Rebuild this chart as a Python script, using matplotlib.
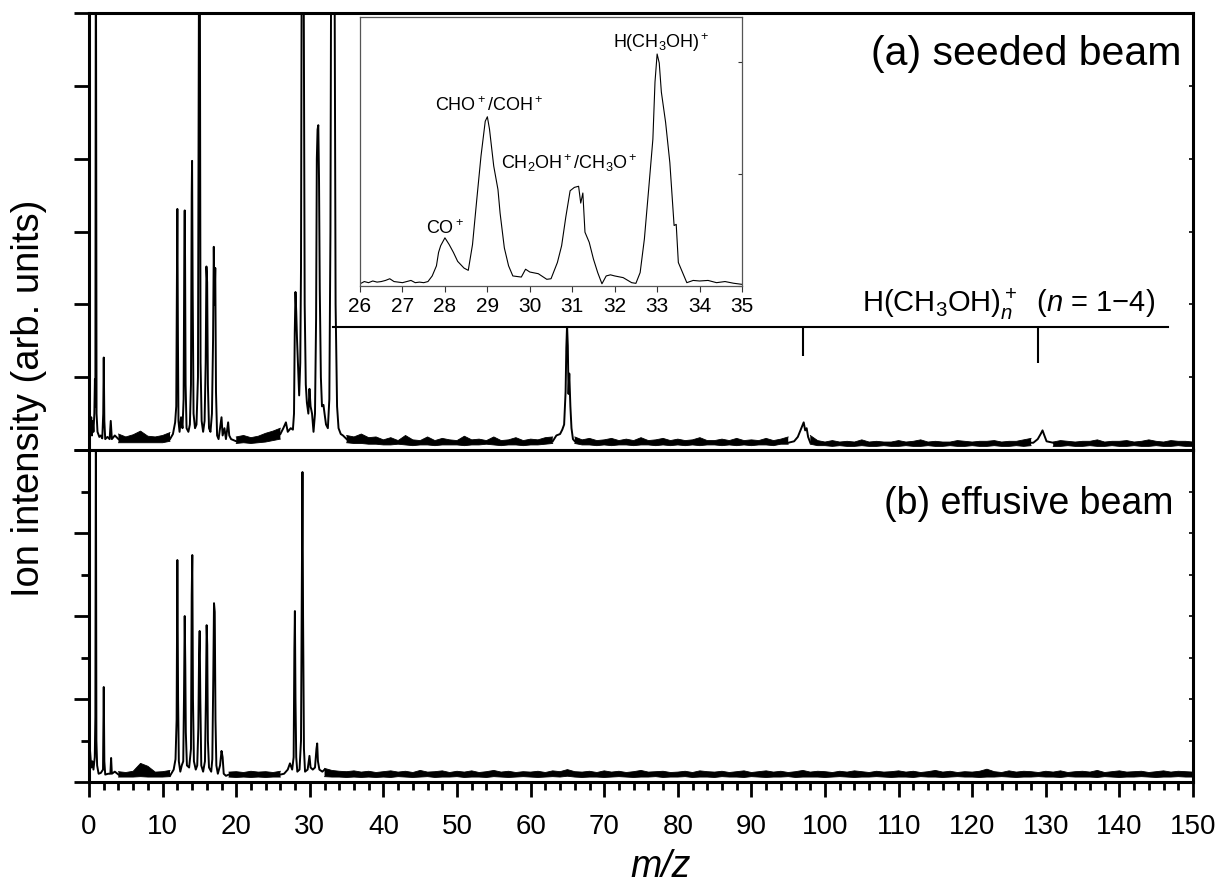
import numpy as np
import matplotlib
matplotlib.use('Agg')
import matplotlib.pyplot as plt
from matplotlib.ticker import MultipleLocator

plt.rcParams['font.family'] = ['Liberation Sans', 'DejaVu Sans']
plt.rcParams['mathtext.fontset'] = 'custom'
plt.rcParams['mathtext.rm'] = 'Liberation Sans'
plt.rcParams['mathtext.it'] = 'Liberation Sans:italic'
plt.rcParams['mathtext.bf'] = 'Liberation Sans:bold'

# ---- noise band of the baseline (lower / upper edge), m/z 0 .. 150 in steps of 1
top_band_lo = [
    0.1, 0.1, 0.1, 0.1, 0.1, 0.1, 0.1, 0.1, 0.1, 0.1,
    0.1, 0.12, 0.12, 0.12, 0.12, 0.12, 0.12, 0.12, 0.12, 0.1,
    0.09, 0.1, 0.09, 0.1, 0.11, 0.13, 0.15, 0.15, 0.15, 0.15,
    0.15, 0.15, 0.15, 0.15, 0.12, 0.1, 0.09, 0.09, 0.08, 0.08,
    0.07, 0.07, 0.08, 0.07, 0.06, 0.07, 0.07, 0.06, 0.07, 0.07,
    0.07, 0.06, 0.07, 0.07, 0.08, 0.07, 0.06, 0.07, 0.07, 0.06,
    0.07, 0.07, 0.08, 0.09, 0.1, 0.1, 0.09, 0.07, 0.07, 0.06,
    0.07, 0.06, 0.07, 0.07, 0.06, 0.07, 0.07, 0.06, 0.07, 0.06,
    0.07, 0.06, 0.07, 0.06, 0.07, 0.07, 0.06, 0.07, 0.06, 0.07,
    0.06, 0.07, 0.07, 0.06, 0.08, 0.08, 0.09, 0.1, 0.08, 0.06,
    0.06, 0.05, 0.06, 0.05, 0.05, 0.06, 0.05, 0.05, 0.06, 0.05,
    0.05, 0.06, 0.05, 0.05, 0.06, 0.05, 0.05, 0.06, 0.05, 0.05,
    0.06, 0.05, 0.05, 0.06, 0.05, 0.05, 0.06, 0.05, 0.06, 0.07,
    0.06, 0.05, 0.05, 0.06, 0.05, 0.05, 0.06, 0.05, 0.05, 0.06,
    0.05, 0.05, 0.06, 0.05, 0.05, 0.06, 0.05, 0.05, 0.06, 0.05, 0.05,
]
top_band_hi = [
    0.3, 0.3, 0.3, 0.3, 0.22, 0.18, 0.21, 0.26, 0.19, 0.18,
    0.2, 0.24, 0.3, 0.3, 0.3, 0.3, 0.3, 0.3, 0.3, 0.2,
    0.18, 0.2, 0.17, 0.19, 0.23, 0.26, 0.3, 0.33, 0.3, 0.3,
    0.3, 0.3, 0.3, 0.3, 0.24, 0.2, 0.18, 0.22, 0.17, 0.18,
    0.14, 0.17, 0.13, 0.2, 0.14, 0.13, 0.18, 0.13, 0.16, 0.14,
    0.13, 0.19, 0.14, 0.15, 0.13, 0.18, 0.13, 0.14, 0.17, 0.13,
    0.15, 0.14, 0.17, 0.18, 0.22, 0.25, 0.18, 0.14, 0.16, 0.13,
    0.14, 0.16, 0.13, 0.15, 0.13, 0.17, 0.13, 0.14, 0.16, 0.13,
    0.15, 0.13, 0.14, 0.17, 0.13, 0.13, 0.15, 0.13, 0.16, 0.13,
    0.14, 0.13, 0.16, 0.13, 0.15, 0.18, 0.22, 0.3, 0.2, 0.13,
    0.11, 0.13, 0.11, 0.12, 0.11, 0.14, 0.11, 0.12, 0.11, 0.11,
    0.13, 0.11, 0.12, 0.14, 0.11, 0.12, 0.11, 0.11, 0.13, 0.12,
    0.11, 0.12, 0.12, 0.13, 0.11, 0.12, 0.12, 0.14, 0.16, 0.2,
    0.13, 0.11, 0.13, 0.12, 0.11, 0.12, 0.12, 0.14, 0.11, 0.12,
    0.12, 0.13, 0.11, 0.12, 0.14, 0.12, 0.11, 0.13, 0.12, 0.12, 0.11,
]
bot_band_lo = [
    0.12, 0.12, 0.12, 0.12, 0.12, 0.12, 0.12, 0.13, 0.12, 0.12,
    0.12, 0.13, 0.15, 0.15, 0.15, 0.15, 0.15, 0.15, 0.13, 0.12,
    0.11, 0.12, 0.11, 0.12, 0.11, 0.12, 0.12, 0.13, 0.15, 0.15,
    0.15, 0.14, 0.13, 0.12, 0.12, 0.11, 0.12, 0.11, 0.12, 0.11,
    0.12, 0.11, 0.13, 0.12, 0.11, 0.12, 0.13, 0.11, 0.12, 0.12,
    0.13, 0.11, 0.12, 0.12, 0.11, 0.13, 0.12, 0.11, 0.12, 0.13,
    0.12, 0.11, 0.12, 0.13, 0.12, 0.14, 0.12, 0.11, 0.12, 0.12,
    0.11, 0.12, 0.13, 0.12, 0.11, 0.12, 0.12, 0.13, 0.11, 0.12,
    0.12, 0.13, 0.11, 0.12, 0.12, 0.11, 0.13, 0.12, 0.12, 0.11,
    0.13, 0.12, 0.11, 0.12, 0.12, 0.13, 0.11, 0.12, 0.12, 0.12,
    0.11, 0.12, 0.13, 0.12, 0.11, 0.12, 0.12, 0.13, 0.12, 0.11,
    0.12, 0.12, 0.11, 0.13, 0.12, 0.12, 0.11, 0.12, 0.13, 0.12,
    0.12, 0.11, 0.12, 0.12, 0.13, 0.12, 0.11, 0.12, 0.12, 0.13,
    0.12, 0.12, 0.11, 0.13, 0.12, 0.12, 0.12, 0.11, 0.13, 0.12,
    0.11, 0.12, 0.12, 0.13, 0.12, 0.11, 0.12, 0.12, 0.13, 0.12, 0.12,
]
bot_band_hi = [
    0.3, 0.3, 0.3, 0.3, 0.25, 0.23, 0.26, 0.45, 0.38, 0.24,
    0.25, 0.28, 0.3, 0.3, 0.3, 0.3, 0.3, 0.3, 0.28, 0.24,
    0.25, 0.23, 0.26, 0.24, 0.25, 0.23, 0.26, 0.28, 0.3, 0.3,
    0.3, 0.3, 0.33, 0.28, 0.26, 0.25, 0.27, 0.24, 0.26, 0.23,
    0.25, 0.27, 0.24, 0.26, 0.23, 0.28, 0.24, 0.25, 0.27, 0.23,
    0.26, 0.24, 0.27, 0.23, 0.25, 0.28, 0.24, 0.26, 0.23, 0.25,
    0.24, 0.26, 0.23, 0.27, 0.25, 0.3, 0.25, 0.24, 0.26, 0.23,
    0.27, 0.24, 0.26, 0.23, 0.25, 0.28, 0.24, 0.25, 0.26, 0.23,
    0.24, 0.26, 0.23, 0.27, 0.25, 0.24, 0.26, 0.23, 0.25, 0.27,
    0.23, 0.25, 0.27, 0.24, 0.26, 0.23, 0.25, 0.28, 0.24, 0.26,
    0.25, 0.23, 0.26, 0.24, 0.27, 0.25, 0.23, 0.26, 0.24, 0.25,
    0.27, 0.24, 0.26, 0.23, 0.25, 0.28, 0.24, 0.26, 0.23, 0.25,
    0.24, 0.26, 0.31, 0.25, 0.23, 0.27, 0.24, 0.26, 0.25, 0.23,
    0.26, 0.24, 0.27, 0.23, 0.25, 0.26, 0.24, 0.28, 0.23, 0.25,
    0.27, 0.24, 0.25, 0.26, 0.23, 0.25, 0.27, 0.24, 0.26, 0.25, 0.24,
]

# ---- peak groups (m/z, intensity), (a) seeded beam
top_light = [(0.0, 0.35), (0.1, 0.5), (0.2, 0.3), (0.3, 0.45), (0.4, 0.2), (0.5, 0.4), (0.6, 0.25),
             (0.72, 0.5), (0.8, 0.97), (0.86, 0.6), (0.93, 8.0), (1.02, 0.5), (1.15, 0.25), (1.4, 0.18),
             (1.6, 0.2), (1.8, 0.16), (1.93, 0.5), (2.0, 1.27), (2.08, 0.4), (2.2, 0.15), (2.5, 0.18),
             (2.8, 0.15), (2.95, 0.4), (3.1, 0.15), (3.5, 0.2), (4.0, 0.15)]
top_ch = [(11.0, 0.15), (11.4, 0.22), (11.7, 0.38), (11.85, 0.6), (11.95, 2.5), (12.0, 3.31), (12.08, 1.5),
          (12.15, 0.4), (12.3, 0.25), (12.5, 0.45), (12.7, 0.3), (12.85, 0.7), (12.95, 2.8), (13.0, 3.29),
          (13.05, 2.6), (13.12, 0.9), (13.25, 0.3), (13.5, 0.25), (13.7, 0.35), (13.85, 0.9), (13.95, 3.5),
          (14.0, 3.97), (14.08, 2.2), (14.2, 0.5), (14.4, 0.3), (14.6, 0.35), (14.8, 1.0), (14.95, 7.0),
          (15.05, 7.0), (15.15, 1.2), (15.3, 0.4), (15.5, 0.25), (15.7, 0.4), (15.85, 1.2), (15.95, 2.52),
          (16.05, 2.3), (16.15, 0.9), (16.3, 0.3), (16.5, 0.25), (16.7, 0.5), (16.85, 1.5), (16.95, 2.79),
          (17.05, 2.0), (17.15, 2.5), (17.25, 0.8), (17.4, 0.2), (17.6, 0.15), (17.8, 0.3), (18.0, 0.45),
          (18.15, 0.2), (18.4, 0.3), (18.6, 0.15), (18.9, 0.38), (19.05, 0.2), (19.3, 0.15), (20.0, 0.12)]
top_co = [(26.0, 0.22), (26.4, 0.3), (26.75, 0.38), (27.0, 0.25), (27.4, 0.3), (27.7, 0.28), (27.85, 0.5),
          (27.95, 1.6), (28.05, 2.17), (28.15, 1.9), (28.25, 1.55), (28.4, 1.15), (28.55, 0.75), (28.7, 1.2),
          (28.8, 2.5), (28.9, 7.0), (29.15, 7.0), (29.3, 2.0), (29.45, 0.9), (29.6, 0.65), (29.8, 0.5),
          (29.95, 0.84), (30.1, 0.6), (30.3, 0.5), (30.5, 0.25), (30.7, 0.5), (30.85, 1.8), (30.95, 4.0),
          (31.05, 4.4), (31.15, 4.46), (31.25, 3.7), (31.35, 2.2), (31.5, 1.0), (31.65, 0.6), (31.85, 0.62),
          (32.0, 0.5), (32.2, 0.35), (32.45, 0.3), (32.65, 0.7), (32.8, 3.0), (32.9, 7.0), (33.35, 7.0),
          (33.5, 2.0), (33.7, 0.6), (33.9, 0.3), (34.2, 0.22), (34.5, 0.2), (35.0, 0.15)]
top_n2 = [(63.0, 0.12), (63.5, 0.2), (64.0, 0.22), (64.3, 0.28), (64.55, 0.35), (64.75, 0.8), (64.85, 1.4),
          (64.95, 1.69), (65.05, 1.43), (65.1, 1.1), (65.15, 0.77), (65.25, 1.05), (65.4, 0.6), (65.55, 0.3),
          (65.75, 0.15), (66.0, 0.12)]
top_n3 = [(95.0, 0.1), (95.8, 0.12), (96.3, 0.18), (96.7, 0.28), (96.9, 0.33), (97.1, 0.38), (97.3, 0.27),
          (97.5, 0.3), (97.7, 0.18), (98.0, 0.1)]
top_n4 = [(128.0, 0.1), (128.3, 0.1), (128.9, 0.15), (129.3, 0.22), (129.55, 0.27), (129.8, 0.2),
          (130.1, 0.12), (131.0, 0.1)]

# ---- (b) effusive beam
bot_light = [(0.0, 0.3), (0.1, 0.84), (0.2, 0.6), (0.3, 0.35), (0.45, 0.5), (0.6, 0.3), (0.78, 0.6),
             (0.86, 1.57), (0.93, 9.0), (1.0, 1.0), (1.1, 0.4), (1.3, 0.2), (1.6, 0.22), (1.9, 0.3),
             (2.0, 2.29), (2.08, 0.5), (2.2, 0.18), (2.6, 0.2), (2.9, 0.2), (3.0, 0.58), (3.1, 0.2),
             (3.5, 0.25), (4.0, 0.18)]
bot_ch = [(11.0, 0.15), (11.5, 0.3), (11.75, 0.55), (11.9, 1.5), (12.0, 5.35), (12.1, 2.0), (12.2, 0.5),
          (12.4, 0.25), (12.6, 0.4), (12.8, 0.5), (12.9, 2.0), (13.0, 4.0), (13.08, 2.8), (13.15, 1.2),
          (13.3, 0.4), (13.6, 0.35), (13.85, 0.8), (13.95, 4.5), (14.03, 5.47), (14.12, 2.0), (14.25, 0.5),
          (14.5, 0.3), (14.7, 0.4), (14.85, 1.3), (14.95, 3.07), (15.03, 3.64), (15.12, 2.0), (15.25, 0.4),
          (15.5, 0.25), (15.75, 0.5), (15.88, 2.0), (15.98, 3.78), (16.06, 3.3), (16.15, 1.0), (16.3, 0.35),
          (16.6, 0.25), (16.75, 0.55), (16.88, 2.5), (16.98, 4.31), (17.08, 4.1), (17.18, 1.5), (17.3, 0.4),
          (17.5, 0.2), (17.8, 0.4), (18.0, 0.75), (18.15, 0.6), (18.3, 0.2), (18.6, 0.15), (19.0, 0.18)]
bot_co = [(26.0, 0.18), (26.5, 0.2), (27.0, 0.3), (27.3, 0.45), (27.6, 0.3), (27.8, 0.6), (27.9, 3.2),
          (27.97, 4.12), (28.05, 2.0), (28.15, 0.6), (28.3, 0.25), (28.6, 0.3), (28.8, 1.0), (28.92, 5.0),
          (29.0, 7.47), (29.08, 4.0), (29.2, 0.8), (29.35, 0.25), (29.7, 0.3), (29.95, 0.63), (30.1, 0.35),
          (30.4, 0.3), (30.7, 0.35), (30.9, 0.8), (31.0, 0.93), (31.1, 0.5), (31.3, 0.3), (31.7, 0.25),
          (32.0, 0.3)]

# ---- inset, m/z 26-35 of (a)
inset_mz = [26.0, 26.1, 26.2, 26.3, 26.4, 26.5, 26.6, 26.7, 26.8, 26.9, 27.0, 27.1, 27.2, 27.3, 27.4, 27.5,
            27.6, 27.7, 27.8, 27.85, 27.9, 28.0, 28.1, 28.2, 28.3, 28.45, 28.55, 28.65, 28.75, 28.85, 28.95,
            29.0, 29.05, 29.15, 29.25, 29.3, 29.4, 29.5, 29.6, 29.8, 29.9, 30.0, 30.2, 30.4, 30.5, 30.65,
            30.75, 30.85, 30.95, 31.05, 31.15, 31.2, 31.25, 31.3, 31.4, 31.5, 31.6, 31.7, 31.8, 31.9, 32.0,
            32.2, 32.4, 32.5, 32.6, 32.7, 32.8, 32.9, 32.95, 33.0, 33.05, 33.1, 33.2, 33.3, 33.4, 33.45,
            33.5, 33.6, 33.7, 33.85, 34.0, 34.2, 34.4, 34.6, 34.8, 35.0]
inset_int = [0.02, 0.04, 0.03, 0.045, 0.035, 0.04, 0.05, 0.065, 0.04, 0.035, 0.03, 0.04, 0.05, 0.03, 0.035, 0.03,
             0.04, 0.09, 0.18, 0.3, 0.36, 0.43, 0.37, 0.3, 0.22, 0.16, 0.14, 0.37, 0.77, 1.16, 1.47,
             1.51, 1.4, 1.07, 0.86, 0.65, 0.34, 0.18, 0.09, 0.08, 0.15, 0.125, 0.11, 0.06, 0.065, 0.21,
             0.36, 0.62, 0.85, 0.88, 0.89, 0.74, 0.83, 0.48, 0.39, 0.24, 0.12, 0.02, 0.09, 0.1, 0.09,
             0.075, 0.03, 0.024, 0.12, 0.42, 0.86, 1.31, 1.82, 2.07, 1.99, 1.73, 1.46, 1.1, 0.54, 0.55,
             0.21, 0.12, 0.03, 0.05, 0.045, 0.05, 0.03, 0.04, 0.025, 0.015]

cluster_mz = [65, 97, 129]
cluster_tick_end = [1.35, 1.29, 1.2]


def draw_spectrum(ax, lo, hi, groups):
    mz = np.arange(len(lo), dtype=float)
    lo = np.array(lo, dtype=float)
    hi = np.array(hi, dtype=float)
    for g in groups:
        gx = [p[0] for p in g]
        inside = (mz > min(gx)) & (mz < max(gx))
        lo[inside] = np.nan
        hi[inside] = np.nan
    lo = np.ma.masked_invalid(lo)
    hi = np.ma.masked_invalid(hi)
    ax.fill_between(mz, lo, hi, color='black', lw=0)
    ax.plot(mz, lo, color='black', lw=0.6)
    ax.plot(mz, hi, color='black', lw=0.6)
    for g in groups:
        ax.plot([p[0] for p in g], [p[1] for p in g], color='black', lw=1.4)


fig = plt.figure(figsize=(12.23, 8.87), dpi=100)
ax1 = fig.add_axes([0.0728, 0.4915, 0.9027, 0.4927])
ax2 = fig.add_axes([0.0728, 0.1172, 0.9027, 0.3743])

for ax, ymax in ((ax1, 6), (ax2, 8)):
    ax.set_xlim(0, 150)
    ax.set_ylim(0, ymax)
    for s in ax.spines.values():
        s.set_linewidth(2.2)
    ax.xaxis.set_major_locator(MultipleLocator(10))
    ax.xaxis.set_minor_locator(MultipleLocator(2))
    ax.tick_params(axis='x', which='major', direction='out', length=11, width=2.0,
                   labelsize=20, pad=11, top=False)
    ax.tick_params(axis='x', which='minor', direction='out', length=5.5, width=2.0, top=False)
    ax.tick_params(axis='y', which='both', direction='out', width=2.0, labelleft=False, right=False)
    ax.tick_params(axis='y', which='major', length=11)
    ax.tick_params(axis='y', which='minor', length=5.5)
    # small inward ticks on the right side
    axr = ax.twinx()
    axr.set_ylim(0, ymax)
    axr.yaxis.set_major_locator(MultipleLocator(1))
    axr.tick_params(axis='y', direction='in', length=3, width=1.2, labelright=False)
    for s in axr.spines.values():
        s.set_visible(False)

ax1.yaxis.set_major_locator(MultipleLocator(1))
ax1.tick_params(axis='x', labelbottom=False)
ax2.yaxis.set_major_locator(MultipleLocator(2))
ax2.yaxis.set_minor_locator(MultipleLocator(1))

draw_spectrum(ax1, top_band_lo, top_band_hi, [top_light, top_ch, top_co, top_n2, top_n3, top_n4])
draw_spectrum(ax2, bot_band_lo, bot_band_hi, [bot_light, bot_ch, bot_co])

# cluster series marker
ax1.plot([33.1, 146.6], [1.69, 1.69], color='black', lw=1.5)
ax1.vlines(cluster_mz, cluster_tick_end, 1.69, color='black', lw=1.5)
ax1.text(144.8, 1.91, 'H(CH$_3$OH)$_n^+$  ($n$ = 1\u22124)', fontsize=21, ha='right', va='baseline')

ax1.text(148.5, 5.30, '(a) seeded beam', fontsize=29.5, ha='right', va='baseline')
ax2.text(147.3, 6.48, '(b) effusive beam', fontsize=27, ha='right', va='baseline')

fig.text(29 / 1223, 1 - 398 / 887, 'Ion intensity (arb. units)', rotation=90,
         fontsize=27.5, ha='center', va='center')
fig.text(661 / 1223, 1 - 867 / 887, 'm/z', style='italic', fontsize=27, ha='center', va='center')

# inset
axin = fig.add_axes([0.2944, 0.6764, 0.3123, 0.3033])
axin.plot(inset_mz, inset_int, color='black', lw=0.8)
axin.set_xlim(26, 35)
axin.set_ylim(0, 2.4)
axin.set_xticks(range(26, 36))
axin.tick_params(axis='x', direction='out', length=4, width=0.8, labelsize=15, pad=3, colors='#333333',
                 labelcolor='black')
axin.yaxis.set_major_locator(MultipleLocator(1))
axin.yaxis.tick_right()
axin.tick_params(axis='y', direction='in', length=3, width=0.8, labelright=False, colors='#333333')
for s in axin.spines.values():
    s.set_linewidth(0.9)
    s.set_color('#555555')

axin.text(28.0, 0.47, 'CO$^+$', fontsize=13, ha='center', va='baseline')
axin.text(29.05, 1.57, 'CHO$^+$/COH$^+$', fontsize=13, ha='center', va='baseline')
axin.text(30.93, 1.05, 'CH$_2$OH$^+$/CH$_3$O$^+$', fontsize=13, ha='center', va='baseline')
axin.text(33.1, 2.13, 'H(CH$_3$OH)$^+$', fontsize=13, ha='center', va='baseline')

fig.savefig('out.png', dpi=100)
